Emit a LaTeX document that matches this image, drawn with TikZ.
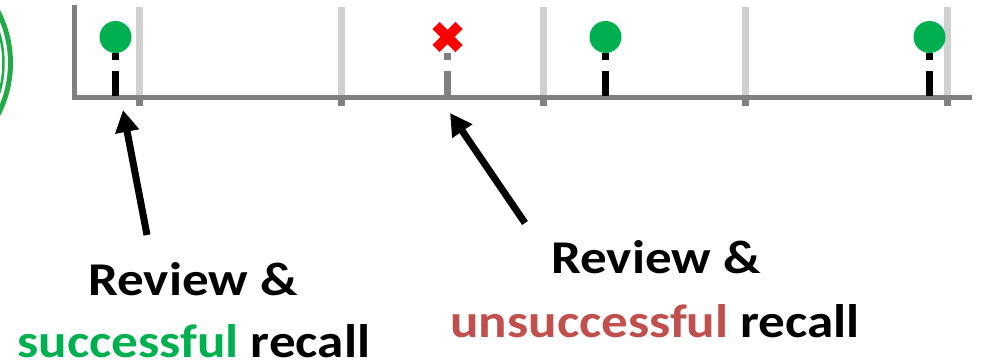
\documentclass[tikz,border=0pt]{standalone}
\usepackage{fontspec}
\setmainfont{Carlito}
\newfontfamily\lblfont{Carlito}[FakeStretch=1.13]
\usetikzlibrary{arrows.meta}
\definecolor{ggreen}{HTML}{00B050}
\definecolor{ringgreen}{HTML}{22AA48}
\definecolor{tred}{HTML}{C0504D}
\definecolor{xred}{HTML}{FF0000}
\definecolor{dgray}{HTML}{808080}
\definecolor{lgray}{HTML}{D0D0D0}
\tikzset{
  lbl/.style={font=\lblfont\fontsize{47}{52}\selectfont\bfseries, inner sep=0pt, anchor=base, text depth=0pt},
  gridline/.style={lgray, line width=7pt},
  tickmark/.style={dgray, line width=7pt},
  axisline/.style={dgray, line width=4.5pt},
  stem/.style={black, line width=7pt},
  gstem/.style={dgray, line width=7pt},
  gdot/.style={circle, fill=ggreen, minimum size=32pt, inner sep=0pt},
  xstroke/.style={xred, line width=10pt},
  bigarrow/.style={black, line width=7pt, -{Triangle[length=22pt,width=23pt]}},
}
\begin{document}
\begin{tikzpicture}[x=1pt,y=-1pt]
\useasboundingbox (0,0) rectangle (981,363);
% rings at left edge
\begin{scope}
\clip (0,0) rectangle (981,363);
\draw[ringgreen, line width=5pt] (-101.5,63) circle (112);
\draw[ringgreen, line width=2.5pt] (-101.5,63) circle (105);
\end{scope}
% grid lines and ticks
\foreach \x in {139.5,341.5,543.5,745.5,947.5}{
  \draw[gridline] (\x,7) -- (\x,97);
  \draw[tickmark] (\x,97) -- (\x,106);
}
% axes
\draw[axisline] (74.5,5) -- (74.5,97.5) -- (972,97.5);
% stems
\foreach \x in {115.5,605.5,929.5}{
  \draw[stem] (\x,53) -- (\x,60);
  \draw[stem] (\x,71) -- (\x,96);
}
\draw[gstem] (447,53) -- (447,60);
\draw[gstem] (447,71) -- (447,96);
% markers
\node[gdot] (d1) at (115.5,37) {};
\node[gdot] (d2) at (605.5,37) {};
\node[gdot] (d3) at (929.5,37) {};
\node[inner sep=0pt, minimum size=30pt] (x1) at (447.5,37) {};
\draw[xstroke] (x1.center) ++(-11.5,-11.5) -- ++(23,23);
\draw[xstroke] (x1.center) ++(11.5,-11.5) -- ++(-23,23);
% labels
\node[lbl] (l1a) at (193,295) {Review \&};
\node[lbl] (l1b) at (194,357) {\textcolor{ggreen}{successful} recall};
\node[lbl] (l2a) at (656,273) {Review \&};
\node[lbl] (l2b) at (655,337) {\textcolor{tred}{unsuccessful} recall};
% arrows
\coordinate (a1s) at (147,235);
\coordinate (a1e) at (123,110);
\coordinate (a2s) at (525,223);
\coordinate (a2e) at (450,113);
\draw[bigarrow] (a1s) -- (a1e);
\draw[bigarrow] (a2s) -- (a2e);
\end{tikzpicture}
\end{document}
